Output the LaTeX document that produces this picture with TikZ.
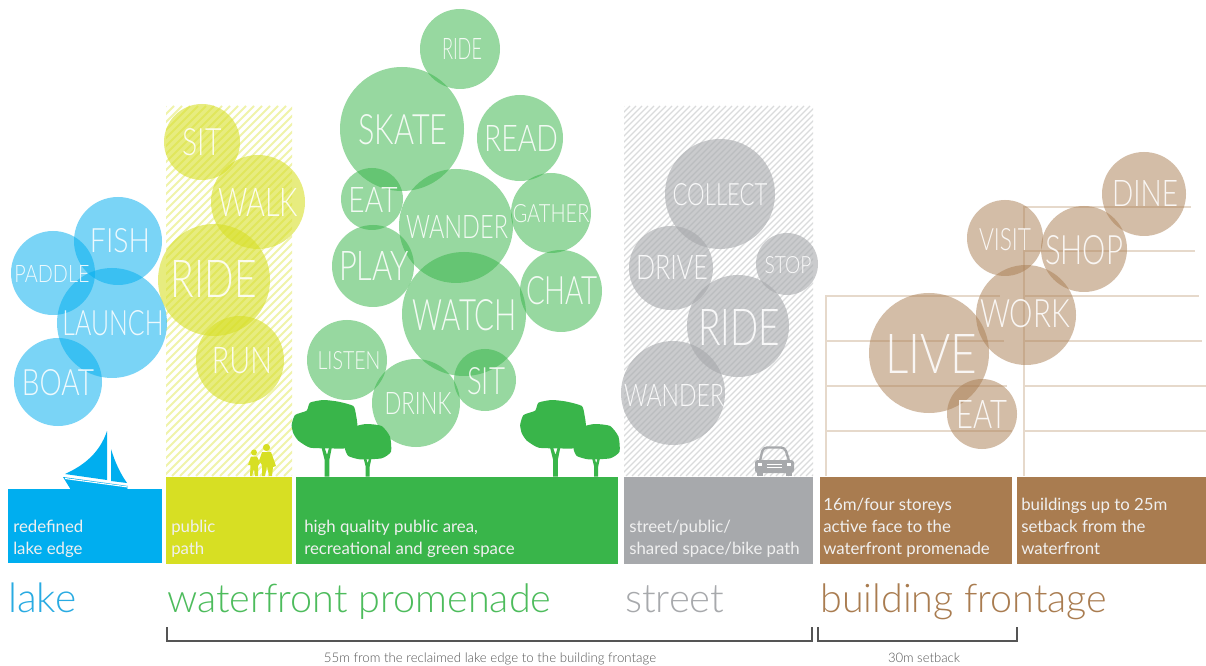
\documentclass[tikz,border=0pt]{standalone}
\usepackage{fontspec}
\usepackage{graphicx}
\setmainfont{Lato Light}
\newfontfamily\barfont{Lato}
\definecolor{lakeblue}{HTML}{00AEEF}
\definecolor{softblue}{HTML}{29ABE2}
\definecolor{pathyellow}{HTML}{D7DF23}
\definecolor{parkgreen}{HTML}{39B54A}
\definecolor{streetgrey}{HTML}{A7A9AC}
\definecolor{frontbrown}{HTML}{A97C50}
\definecolor{gridline}{HTML}{E6D9CB}
\definecolor{bracketgrey}{HTML}{555555}
\newdimen\pxu \pxu=0.75pt
\newcommand{\fitbox}[3]{\resizebox{#1\pxu}{#2\pxu}{#3}}
\newcommand{\fitwide}[2]{\resizebox{#1\pxu}{!}{#2}}
% name, x, y, radius, style
\newcommand{\bub}[5]{\node[bubble,#5,minimum size=#4*1.5pt] (#1) at (#2,#3) {};}
% name, x, y, width, height, text
\newcommand{\lab}[6]{\node[buttext] (#1) at (#2,#3) {\fitbox{#4}{#5}{#6}};}
\newcommand{\treepair}[1]{%
\begin{scope}[shift={(#1,380)},x=0.25pt,y=-0.25pt]
\fill[parkgreen] plot[smooth cycle,tension=.35] coordinates {(35,135)(45,105)(80,92)(90,68)(130,60)(175,65)(220,78)(228,105)(232,135)(225,180)(195,205)(150,205)(90,203)(55,182)(40,160)};
\fill[parkgreen] (134,290) -- (148,290) -- (148,240) -- (156,200) -- (148,200) -- (141,225) -- (133,200) -- (124,200) -- (134,240) -- cycle;
\fill[parkgreen] plot[smooth cycle,tension=.35] coordinates {(195,205)(205,170)(225,140)(260,132)(305,138)(330,170)(333,215)(305,235)(240,238)(205,228)};
\fill[parkgreen] (257,290) -- (269,290) -- (269,260) -- (275,232) -- (268,232) -- (263,250) -- (258,232) -- (250,232) -- (257,260) -- cycle;
\end{scope}}
\tikzset{
  bubble/.style={circle,inner sep=0pt,draw=none},
  bblue/.style={fill=lakeblue,fill opacity=.52},
  byellow/.style={fill=pathyellow,fill opacity=.58},
  bgreen/.style={fill=parkgreen,fill opacity=.52},
  bgrey/.style={fill=streetgrey,fill opacity=.6},
  bbrown/.style={fill=frontbrown,fill opacity=.5},
  buttext/.style={inner sep=0pt,text=white,text opacity=.88},
  bartext/.style={anchor=base west,inner sep=0pt,align=left,text=white!94!black,font=\barfont\fontsize{12.6pt}{16.5pt}\selectfont},
  title/.style={anchor=base west,inner sep=0pt},
  measure/.style={anchor=base,inner sep=0pt,text=bracketgrey},
  bracket/.style={draw=bracketgrey,line width=0.8pt},
  grid/.style={draw=gridline,line width=0.8pt},
  hatchy/.style={draw=pathyellow!38,line width=1.5pt},
  hatchg/.style={draw=streetgrey!42,line width=1pt}
}
\begin{document}
\begin{tikzpicture}[x=0.75pt,y=-0.75pt]
\useasboundingbox (0,0) rectangle (1206,666);
\fill[white] (0,0) rectangle (1206,666);
% hatched strips
\begin{scope}
\clip (166,106) rectangle (292,476);
\foreach \k in {0,8,...,500} \draw[hatchy] (166-370+\k,476) -- (166+\k,106);
\end{scope}
\begin{scope}
\clip (624,106) rectangle (813,476);
\foreach \k in {0,6,...,564} \draw[hatchg] (624-370+\k,476) -- (624+\k,106);
\end{scope}
% building grid
\draw[grid] (826,476) -- (826,296) -- (1000,296);
\draw[grid] (826,341) -- (1004,341);
\draw[grid] (826,386) -- (1007,386);
\draw[grid] (826,431) -- (1012,431);
\draw[grid] (1024,476) -- (1024,207) -- (1191,207);
\draw[grid] (1024,251) -- (1195,251);
\draw[grid] (1024,296) -- (1199,296);
\draw[grid] (1024,341) -- (1202,341);
\draw[grid] (1024,386) -- (1206,386);
\draw[grid] (1024,431) -- (1206,431);
% bars
\fill[lakeblue] (8,489) rectangle (162,563);
\fill[pathyellow] (166,477) rectangle (292,564);
\fill[parkgreen] (296,477) rectangle (618,564);
\fill[streetgrey] (624,477) rectangle (813,564);
\fill[frontbrown] (820,477) rectangle (1012,564);
\fill[frontbrown] (1017,477) rectangle (1206,564);
% boat
\fill[lakeblue] (107,431) .. controls (100,452) and (85,465) .. (65,474) -- (107,480) -- cycle;
\fill[lakeblue] (111,449) .. controls (115,462) and (120,473) .. (127,483) -- (111,481) -- cycle;
\fill[lakeblue] (63,477) -- (128,486) -- (127,490) -- (71,490) -- cycle;
\draw[white,line width=0.8pt] (65,478.5) -- (128,487);
% walkers
\fill[pathyellow] (266.5,447.5) circle (3.6);
\fill[pathyellow] (262,452) -- (271,452) -- (276,466) -- (273,467) -- (272,476) -- (269,476) -- (267,466) -- (265,476) -- (262,476) -- (262,465) -- (259,461) -- cycle;
\fill[pathyellow] (254,452.5) circle (3);
\fill[pathyellow] (251,456.5) -- (257,456.5) -- (260,463) -- (258,466) -- (258,476) -- (255,476) -- (254,469) -- (252,476) -- (250,476) -- (250.5,465) -- (248,465) -- cycle;
% trees
\treepair{280}
\treepair{508.5}
% car
\draw[streetgrey,line width=1.8pt,rounded corners=3pt] (760,461) -- (763,447.5) -- (785,447.5) -- (789,461);
\fill[streetgrey,rounded corners=2pt] (755,460) rectangle (794,473);
\fill[streetgrey] (757,470) rectangle (763,476);
\fill[streetgrey] (786,470) rectangle (792,476);
\fill[white] (758,463) rectangle (762,466);
\fill[white] (787,463) rectangle (791,466);
\fill[white] (767,464) rectangle (782,465);
\fill[white] (767,467) rectangle (782,468);
% bubbles
\bub{fish}{118}{241}{44}{bblue}
\bub{paddle}{53}{273}{42}{bblue}
\bub{launch}{112}{323}{55}{bblue}
\bub{boat}{58}{382}{44}{bblue}
\bub{sitA}{202}{142}{38}{byellow}
\bub{walk}{258}{202}{47}{byellow}
\bub{rideA}{214}{280}{56}{byellow}
\bub{run}{240}{360}{44}{byellow}
\bub{rideB}{460}{49}{40}{bgreen}
\bub{skate}{402}{129}{62}{bgreen}
\bub{read}{520}{138}{43}{bgreen}
\bub{eatA}{372}{199}{31}{bgreen}
\bub{wanderA}{456}{226}{57}{bgreen}
\bub{gather}{551}{213}{40}{bgreen}
\bub{play}{373}{266}{41}{bgreen}
\bub{chat}{561}{291}{41}{bgreen}
\bub{watch}{464}{314}{62}{bgreen}
\bub{listen}{347}{360}{40}{bgreen}
\bub{drink}{416}{403}{44}{bgreen}
\bub{sitB}{485}{380}{31}{bgreen}
\bub{collect}{720}{194}{55}{bgrey}
\bub{drive}{671}{268}{42}{bgrey}
\bub{stop}{787}{264}{31}{bgrey}
\bub{rideC}{738}{326}{51}{bgrey}
\bub{wanderB}{673}{393}{52}{bgrey}
\bub{dine}{1144}{194}{42}{bbrown}
\bub{shop}{1084}{249}{43}{bbrown}
\bub{visit}{1005}{238}{38}{bbrown}
\bub{work}{1026}{315}{50}{bbrown}
\bub{live}{929}{353}{60}{bbrown}
\bub{eatB}{982}{414}{35}{bbrown}
% bubble labels
\lab{tfish}{120}{241}{60}{24}{FISH}
\lab{tpaddle}{52}{274}{75}{17}{PADDLE}
\lab{tlaunch}{113}{323}{101}{25}{LAUNCH}
\lab{tboat}{58}{383}{72}{26}{BOAT}
\lab{tsitA}{202}{142}{39}{27}{SIT}
\lab{twalk}{258}{203}{80}{28}{WALK}
\lab{trideA}{214}{279}{86}{37}{RIDE}
\lab{trun}{242}{361}{60}{26}{RUN}
\lab{trideB}{462}{49}{40}{21}{RIDE}
\lab{tskate}{403}{130}{89}{30}{SKATE}
\lab{tread}{521}{139}{74}{26}{READ}
\lab{teatA}{373}{200}{49}{25}{EAT}
\lab{twanderA}{457}{227}{102}{23}{WANDER}
\lab{tgather}{551}{214}{77}{18}{GATHER}
\lab{tplay}{374}{266}{70}{29}{PLAY}
\lab{tchat}{562}{291}{72}{28}{CHAT}
\lab{twatch}{465}{315}{104}{31}{WATCH}
\lab{tlisten}{349}{361}{63}{18}{LISTEN}
\lab{tdrink}{418}{403}{67}{22}{DRINK}
\lab{tsitB}{486}{381}{38}{27}{SIT}
\lab{tcollect}{720}{195}{95}{22}{COLLECT}
\lab{tdrive}{672}{268}{72}{24}{DRIVE}
\lab{tstop}{788}{265}{47}{17}{STOP}
\lab{trideC}{739}{327}{82}{36}{RIDE}
\lab{twanderB}{674}{395}{100}{22}{WANDER}
\lab{tdine}{1145}{194}{66}{26}{DINE}
\lab{tshop}{1084}{250}{78}{29}{SHOP}
\lab{tvisit}{1005}{240}{52}{22}{VISIT}
\lab{twork}{1025}{314}{90}{28}{WORK}
\lab{tlive}{931}{354}{92}{39}{LIVE}
\lab{teatB}{982}{414}{51}{28}{EAT}
% bar texts
\node[bartext] (blake) at (13,554) {redefined\\lake edge};
\node[bartext] (bpath) at (171,554) {public\\path};
\node[bartext] (bpark) at (304,554) {high quality public area,\\recreational and green space};
\node[bartext] (bstreet) at (629,554) {street/public/\\shared space/bike path};
\node[bartext] (bfront) at (823,554) {16m/four storeys\\active face to the\\waterfront promenade};
\node[bartext] (bback) at (1021,554) {buildings up to 25m\\setback from the\\waterfront};
% titles
\node[title] (tlake) at (8,612) {\fitwide{68}{\color{softblue}lake}};
\node[title] (twater) at (167,612) {\fitwide{384}{\color{parkgreen!90!white}waterfront promenade}};
\node[title] (tstreet) at (625,612) {\fitwide{99}{\color{streetgrey}street}};
\node[title] (tbuild) at (820,612) {\fitwide{287}{\color{frontbrown}building frontage}};
% brackets
\coordinate (a1) at (167,627);
\coordinate (a2) at (812,627);
\coordinate (b1) at (818,627);
\coordinate (b2) at (1017,627);
\draw[bracket] (a1) -- ++(0,14) -| (a2);
\draw[bracket] (b1) -- ++(0,14) -| (b2);
\node[measure] (m1) at (490,662) {\fitwide{332}{55m from the reclaimed lake edge to the building frontage}};
\node[measure] (m2) at (924,662) {\fitwide{72}{30m setback}};
\end{tikzpicture}
\end{document}
